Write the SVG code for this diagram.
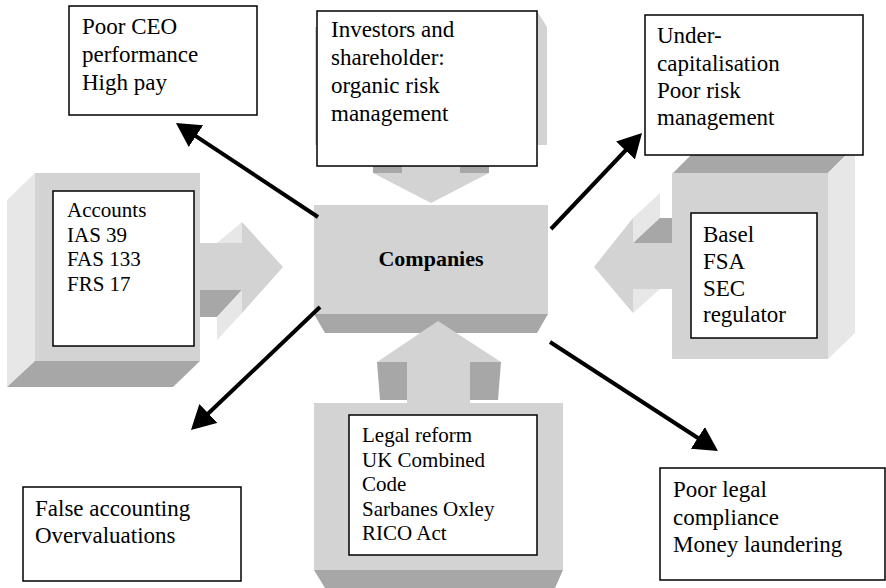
<svg xmlns="http://www.w3.org/2000/svg" width="886" height="588" viewBox="0 0 886 588">
<style>
.face{fill:#d3d3d3}
.dark{fill:#a7a7a7}
.light{fill:#e7e7e7}
.box{fill:#ffffff;stroke:#000000;stroke-width:1.5}
.t{font-family:"Liberation Serif","Times New Roman",serif;fill:#000000}
.big{font-size:23px}
.sm{font-size:21px}
.conn{stroke:#000000;stroke-width:4;fill:none;marker-end:url(#head)}
</style>
<defs>
<marker id="head" markerUnits="userSpaceOnUse" viewBox="0 0 24 26" refX="2" refY="13" markerWidth="24" markerHeight="26" orient="auto">
<path d="M0,0 L24,13 L0,26 Z" fill="#000000"/>
</marker>
</defs>
<rect width="886" height="588" fill="#ffffff"/>

<g id="companies">
<rect class="face" x="314" y="205" width="234" height="109"/>
<polygon class="dark" points="314,314 548,314 537,333 325,333"/>
<text class="t" x="431" y="266" font-size="22" font-weight="bold" text-anchor="middle">Companies</text>
</g>

<g id="investors">
<rect class="face" x="315" y="27" width="232" height="118"/>
<polygon class="face" points="530,11 537,11 547,27 530,27"/>
<rect class="face" x="402" y="145" width="58" height="28"/>
<rect class="dark" x="373" y="166" width="29" height="7"/>
<rect class="dark" x="460" y="166" width="29" height="7"/>
<polygon class="face" points="373,173 489,173 431,203"/>
<rect class="box" x="317" y="11" width="220" height="155"/>
<text class="t big" x="331"><tspan x="331" y="37">Investors and</tspan><tspan x="331" y="65">shareholder:</tspan><tspan x="331" y="93">organic risk</tspan><tspan x="331" y="120.5">management</tspan></text>
</g>

<g id="accounts">
<polygon class="light" points="7,200 35,173 35,361 7,387"/>
<polygon class="dark" points="35,361 200,361 173,387 7,387"/>
<rect class="face" x="35" y="173" width="165" height="188"/>
<polygon class="dark" points="200,290 242,290 217,317 200,317"/>
<polygon class="light" points="242,290 242,313 217,340 217,317"/>
<polygon class="light" points="242,222 242,243 217,243"/>
<polygon class="face" points="200,243 242,243 242,222 283,267 242,313 242,290 200,290"/>
<rect class="box" x="53" y="191" width="141" height="155"/>
<text class="t sm"><tspan x="67" y="216.5">Accounts</tspan><tspan x="67" y="241.5">IAS 39</tspan><tspan x="67" y="266">FAS 133</tspan><tspan x="67" y="290.5">FRS 17</tspan></text>
</g>

<g id="regulator">
<polygon class="dark" points="673,173 828,173 855,146 700,146"/>
<polygon class="light" points="828,173 855,146 855,333 828,359"/>
<rect class="face" x="672" y="173" width="156" height="186"/>
<polygon class="dark" points="633,243 672,243 672,218 658,218"/>
<polygon class="light" points="633,218 660,193 660,218 633,243"/>
<polygon class="light" points="633,289 660,289 633,313"/>
<polygon class="face" points="672,243 633,243 633,218 594,267 633,313 633,289 672,289"/>
<rect class="box" x="691" y="213" width="126" height="125"/>
<text class="t big"><tspan x="703" y="242">Basel</tspan><tspan x="703" y="269">FSA</tspan><tspan x="703" y="296">SEC</tspan><tspan x="703" y="322">regulator</tspan></text>
</g>

<g id="legal">
<rect class="face" x="314" y="403" width="249" height="167"/>
<polygon class="dark" points="314,570 563,570 555,588 325,588"/>
<polygon class="dark" points="377,362 407,362 407,400 380,400"/>
<polygon class="dark" points="470,362 501,362 498,400 470,400"/>
<polygon class="face" points="407,403 407,362 377,362 438,321 501,362 470,362 470,403"/>
<rect class="box" x="349" y="415" width="188" height="140"/>
<text class="t sm"><tspan x="362" y="442">Legal reform</tspan><tspan x="362" y="466.5">UK Combined</tspan><tspan x="362" y="491">Code</tspan><tspan x="362" y="515.5">Sarbanes Oxley</tspan><tspan x="362" y="540">RICO Act</tspan></text>
</g>

<g id="ceo">
<rect class="box" x="69" y="6" width="188" height="109"/>
<text class="t big"><tspan x="82" y="34">Poor CEO</tspan><tspan x="82" y="62">performance</tspan><tspan x="82" y="90">High pay</tspan></text>
</g>

<g id="undercap">
<rect class="box" x="645" y="15" width="218" height="140"/>
<text class="t big"><tspan x="657" y="42.5">Under-</tspan><tspan x="657" y="70.5">capitalisation</tspan><tspan x="657" y="97.5">Poor risk</tspan><tspan x="657" y="125">management</tspan></text>
</g>

<g id="false-accounting">
<rect class="box" x="23" y="487" width="218" height="94"/>
<text class="t big"><tspan x="35" y="516">False accounting</tspan><tspan x="35" y="543">Overvaluations</tspan></text>
</g>

<g id="legal-compliance">
<rect class="box" x="660" y="468" width="225" height="112"/>
<text class="t big"><tspan x="673" y="497">Poor legal</tspan><tspan x="673" y="524.5">compliance</tspan><tspan x="673" y="552">Money laundering</tspan></text>
</g>

<g id="connectors">
<line class="conn" x1="318" y1="217" x2="194.3" y2="135.1"/>
<line class="conn" x1="551" y1="229" x2="626.9" y2="149"/>
<line class="conn" x1="320" y1="307" x2="206.9" y2="414.8"/>
<line class="conn" x1="550" y1="342" x2="699.5" y2="439"/>
</g>
</svg>
